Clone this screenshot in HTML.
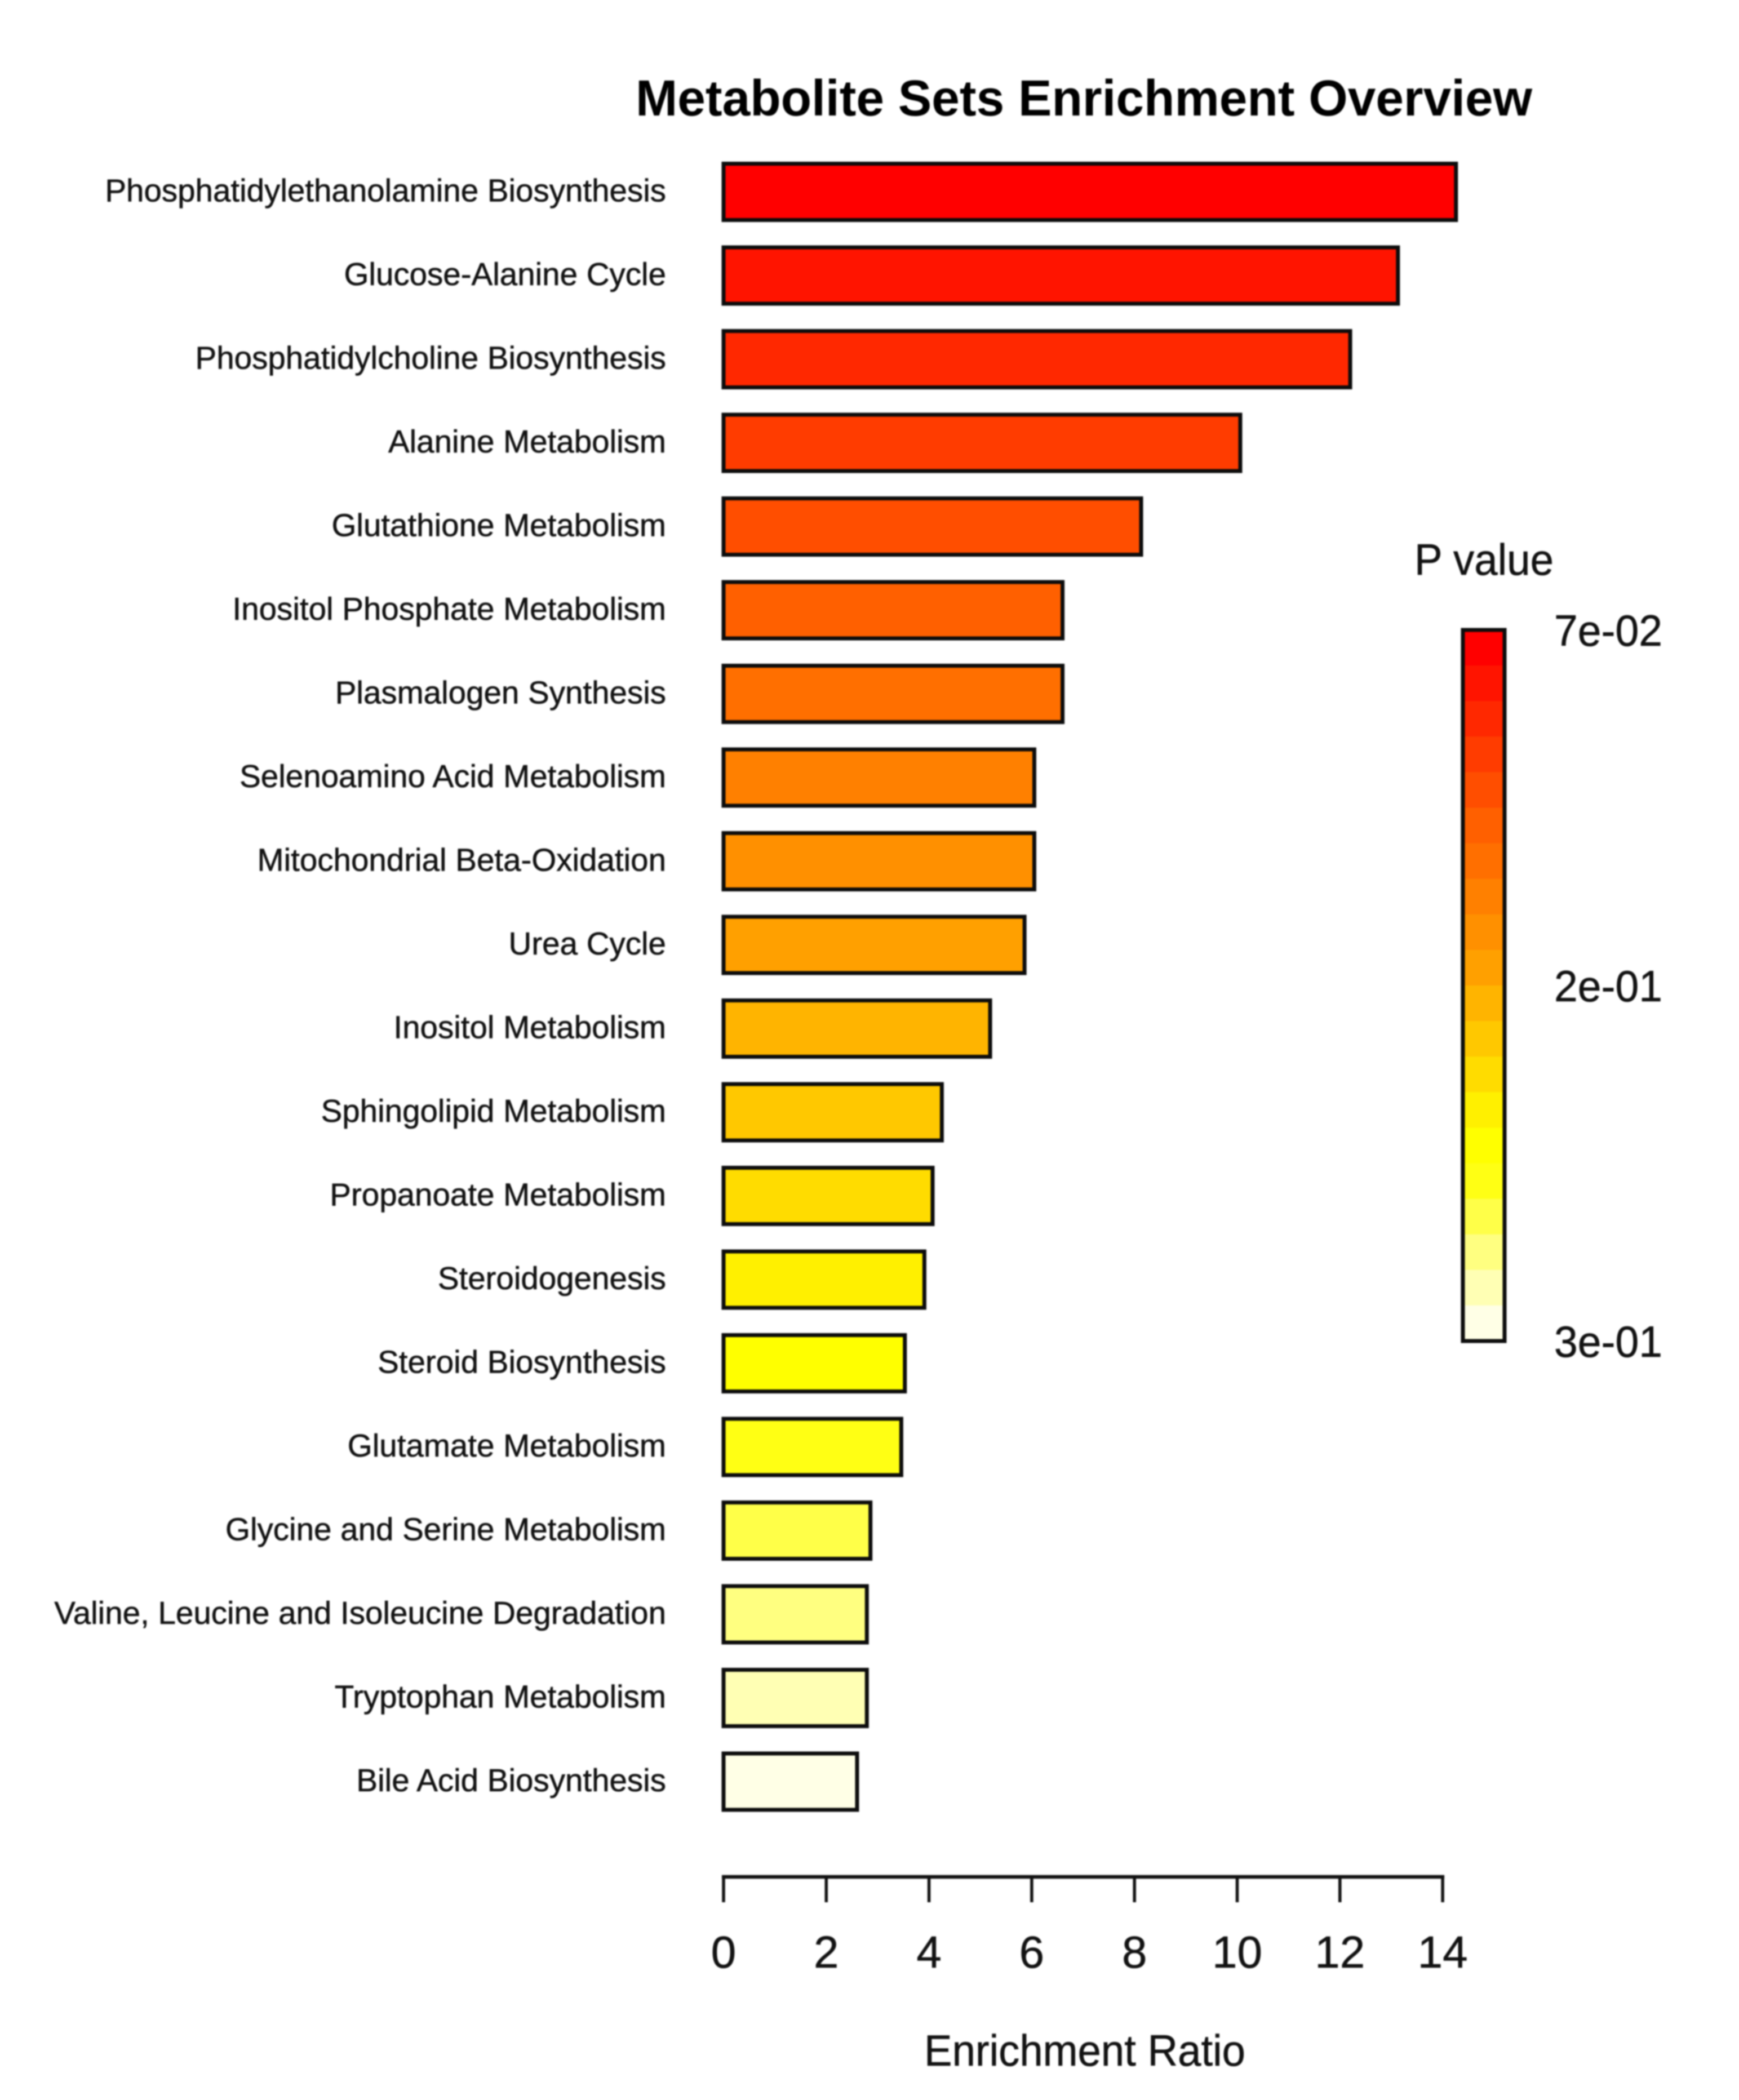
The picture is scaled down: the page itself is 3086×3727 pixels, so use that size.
<!DOCTYPE html>
<html lang="en">
<head>
<meta charset="utf-8">
<title>Metabolite Sets Enrichment Overview</title>
<style>
html,body{margin:0;padding:0;background:#fff;}
svg{display:block;filter:blur(1.3px);}
text{font-family:"Liberation Sans",Arial,sans-serif;fill:#111;}
</style>
</head>
<body>
<svg id="chart" xmlns="http://www.w3.org/2000/svg" width="3086" height="3727" viewBox="0 0 3086 3727">
<rect x="0" y="0" width="3086" height="3727" fill="#fff"/>
<text x="1128" y="205" font-size="90" font-weight="700" textLength="1591" lengthAdjust="spacingAndGlyphs" style="fill:#000">Metabolite Sets Enrichment Overview</text>
<text x="1640" y="3666" font-size="78" textLength="570" lengthAdjust="spacingAndGlyphs" stroke="#111" stroke-width="0.6">Enrichment Ratio</text>
<text x="2510" y="1020" font-size="78" textLength="247" lengthAdjust="spacingAndGlyphs" stroke="#111" stroke-width="0.6">P value</text>
</svg>
<script>
const categories = ["Phosphatidylethanolamine Biosynthesis","Glucose-Alanine Cycle","Phosphatidylcholine Biosynthesis","Alanine Metabolism","Glutathione Metabolism","Inositol Phosphate Metabolism","Plasmalogen Synthesis","Selenoamino Acid Metabolism","Mitochondrial Beta-Oxidation","Urea Cycle","Inositol Metabolism","Sphingolipid Metabolism","Propanoate Metabolism","Steroidogenesis","Steroid Biosynthesis","Glutamate Metabolism","Glycine and Serine Metabolism","Valine, Leucine and Isoleucine Degradation","Tryptophan Metabolism","Bile Acid Biosynthesis"];
const enrichmentRatio = [14.26,13.13,12.2,10.06,8.13,6.6,6.6,6.05,6.05,5.86,5.19,4.25,4.07,3.91,3.53,3.46,2.86,2.79,2.79,2.6];
const heatRamp = ["#ff0000","#ff1400","#ff2800","#ff3c00","#ff4e00","#ff6000","#ff6f00","#ff8000","#ff9000","#ffa000","#ffb400","#ffc800","#ffdc00","#fff000","#ffff00","#ffff14","#ffff48","#ffff80","#ffffb4","#ffffe6"];
const xTicks = [0,2,4,6,8,10,12,14];
const legendLabels = ["7e-02","2e-01","3e-01"];
const legendLabelPositions = [0,0.5,1];

const svg = document.getElementById('chart');
const NS = 'http://www.w3.org/2000/svg';
const X0 = 1284, PX_PER_UNIT = 91.15;
const ROW0 = 340.5, ROW_STEP = 148.5, BAR_H = 100;
const LEG_X = 2596, LEG_W = 74, LEG_TOP = 1118, LEG_BOTTOM = 2380;
const AXIS_Y = 3331, TICK_LEN = 45;

function xScale(v){ return X0 + v * PX_PER_UNIT; }
function yBand(i){ return ROW0 + i * ROW_STEP; }
function make(tag, attrs){
  const el = document.createElementNS(NS, tag);
  for (const k in attrs) el.setAttribute(k, attrs[k]);
  svg.appendChild(el);
  return el;
}

categories.forEach(function(name, i){
  const bar = make('rect', {x:xScale(0), y:yBand(i)-BAR_H/2, width:xScale(enrichmentRatio[i])-xScale(0), height:BAR_H, fill:heatRamp[i], stroke:'#0c0c0c', 'stroke-width':7});
  
  
  const label = make('text', {x:1182, y:yBand(i)+17, 'font-size':56.5, 'text-anchor':'end', stroke:'#111', 'stroke-width':0.6});
  label.textContent = name;
  
  
});

const axisLine = make('line', {x1:xScale(xTicks[0])-3, x2:xScale(xTicks[xTicks.length-1])+3, y1:AXIS_Y, y2:AXIS_Y, stroke:'#111', 'stroke-width':6.5});


xTicks.forEach(function(t){
  const tick = make('line', {x1:xScale(t), x2:xScale(t), y1:AXIS_Y, y2:AXIS_Y+TICK_LEN, stroke:'#111', 'stroke-width':5.5});
  
  
  const tl = make('text', {x:xScale(t), y:3492, 'font-size':80, 'text-anchor':'middle', stroke:'#111', 'stroke-width':0.6});
  tl.textContent = t;
  
  
});

const cellH = (LEG_BOTTOM - LEG_TOP) / heatRamp.length;
heatRamp.forEach(function(c, i){
  const cell = make('rect', {x:LEG_X, y:LEG_TOP + i*cellH, width:LEG_W, height:cellH+0.5, fill:c});
  
  
});
const frame = make('rect', {x:LEG_X, y:LEG_TOP, width:LEG_W, height:LEG_BOTTOM-LEG_TOP, fill:'none', stroke:'#0c0c0c', 'stroke-width':7});


legendLabels.forEach(function(s, i){
  const y = LEG_TOP + legendLabelPositions[i]*(LEG_BOTTOM-LEG_TOP);
  const t = make('text', {x:2758, y:y+28, 'font-size':78, textLength:192, lengthAdjust:'spacingAndGlyphs', stroke:'#111', 'stroke-width':0.6});
  t.textContent = s;
  
  
});
</script>
</body>
</html>
